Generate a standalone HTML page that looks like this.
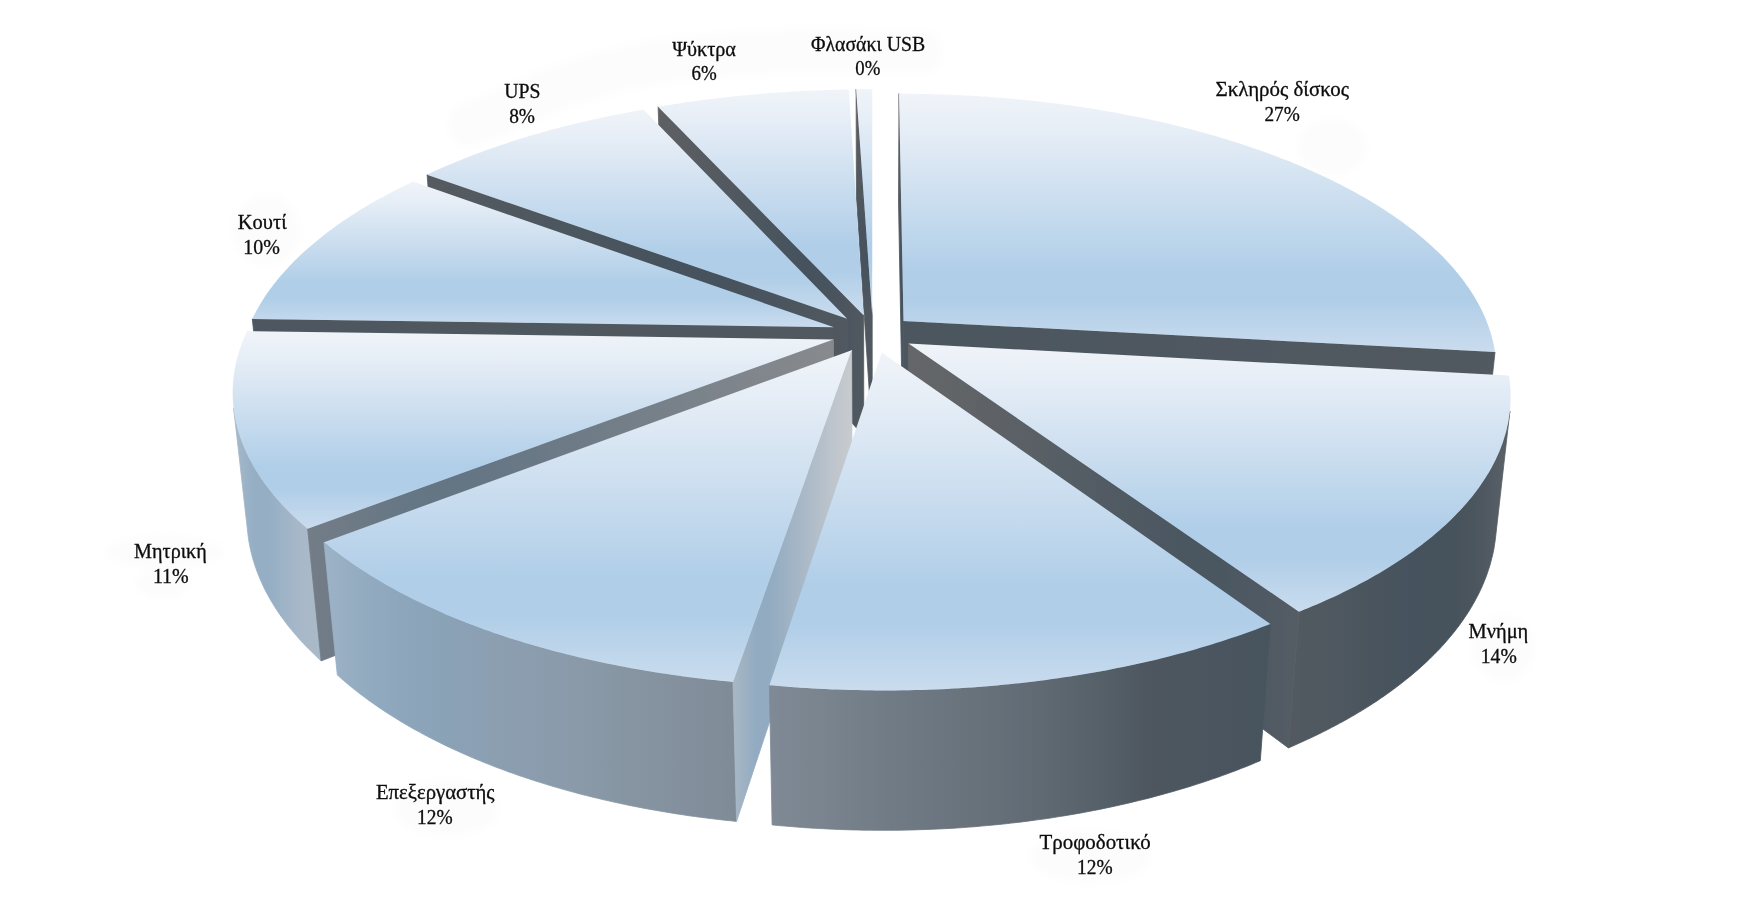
<!DOCTYPE html>
<html><head><meta charset="utf-8"><title>chart</title>
<style>
html,body{margin:0;padding:0;background:#fff;}
body{width:1746px;height:924px;overflow:hidden;}
svg{display:block;}
text{font-family:"Liberation Serif",serif;font-size:20px;fill:#0d0d0d;stroke:#0d0d0d;stroke-width:0.3px;text-anchor:start;}
</style></head><body>
<svg width="1746" height="924" viewBox="0 0 1746 924">
<defs>
<filter id="hb" x="-30%" y="-30%" width="160%" height="160%"><feGaussianBlur stdDeviation="5"/></filter>
<linearGradient id="g1" gradientUnits="userSpaceOnUse" x1="903.5" y1="320.9" x2="899.0" y2="93.7"><stop offset="0.000" stop-color="#4B555E"/><stop offset="0.050" stop-color="#48535D"/><stop offset="0.100" stop-color="#46525D"/><stop offset="0.150" stop-color="#46525D"/><stop offset="0.200" stop-color="#46525D"/><stop offset="0.250" stop-color="#48535D"/><stop offset="0.300" stop-color="#49545E"/><stop offset="0.350" stop-color="#4B555E"/><stop offset="0.400" stop-color="#4D565E"/><stop offset="0.450" stop-color="#4E575F"/><stop offset="0.500" stop-color="#50585F"/><stop offset="0.550" stop-color="#525960"/><stop offset="0.600" stop-color="#545A60"/><stop offset="0.650" stop-color="#555B61"/><stop offset="0.700" stop-color="#575C61"/><stop offset="0.750" stop-color="#595D62"/><stop offset="0.800" stop-color="#5B5E62"/><stop offset="0.850" stop-color="#5C5F63"/><stop offset="0.900" stop-color="#5D6063"/><stop offset="0.950" stop-color="#5F6163"/><stop offset="1.000" stop-color="#606264"/></linearGradient>
<linearGradient id="g2" gradientUnits="userSpaceOnUse" x1="903.5" y1="0.0" x2="1495.0" y2="0.0"><stop offset="0.000" stop-color="#4B565F"/><stop offset="0.050" stop-color="#4C565F"/><stop offset="0.100" stop-color="#4C565F"/><stop offset="0.150" stop-color="#4C565F"/><stop offset="0.200" stop-color="#4D565F"/><stop offset="0.250" stop-color="#4D575F"/><stop offset="0.300" stop-color="#4D575F"/><stop offset="0.350" stop-color="#4E575F"/><stop offset="0.400" stop-color="#4E5760"/><stop offset="0.450" stop-color="#4E5760"/><stop offset="0.500" stop-color="#4F5760"/><stop offset="0.550" stop-color="#4F5860"/><stop offset="0.600" stop-color="#4F5860"/><stop offset="0.650" stop-color="#505860"/><stop offset="0.700" stop-color="#505860"/><stop offset="0.750" stop-color="#505860"/><stop offset="0.800" stop-color="#515860"/><stop offset="0.850" stop-color="#515960"/><stop offset="0.900" stop-color="#515960"/><stop offset="0.950" stop-color="#515960"/><stop offset="1.000" stop-color="#525960"/></linearGradient>
<linearGradient id="g3" gradientUnits="userSpaceOnUse" x1="872.2" y1="314.7" x2="856.1" y2="89.3"><stop offset="0.000" stop-color="#51585F"/><stop offset="0.050" stop-color="#4E575F"/><stop offset="0.100" stop-color="#4C555E"/><stop offset="0.150" stop-color="#49545D"/><stop offset="0.200" stop-color="#46525D"/><stop offset="0.250" stop-color="#46525D"/><stop offset="0.300" stop-color="#46525D"/><stop offset="0.350" stop-color="#48535D"/><stop offset="0.400" stop-color="#4A545E"/><stop offset="0.450" stop-color="#4C565E"/><stop offset="0.500" stop-color="#4E575F"/><stop offset="0.550" stop-color="#50585F"/><stop offset="0.600" stop-color="#525960"/><stop offset="0.650" stop-color="#545A60"/><stop offset="0.700" stop-color="#565B61"/><stop offset="0.750" stop-color="#585C61"/><stop offset="0.800" stop-color="#5A5E62"/><stop offset="0.850" stop-color="#5C5F62"/><stop offset="0.900" stop-color="#5D6063"/><stop offset="0.950" stop-color="#5F6163"/><stop offset="1.000" stop-color="#606264"/></linearGradient>
<linearGradient id="g4" gradientUnits="userSpaceOnUse" x1="863.6" y1="0.0" x2="658.1" y2="0.0"><stop offset="0.000" stop-color="#51585F"/><stop offset="0.050" stop-color="#4E575F"/><stop offset="0.100" stop-color="#4C555E"/><stop offset="0.150" stop-color="#4A545E"/><stop offset="0.200" stop-color="#47535D"/><stop offset="0.250" stop-color="#46525D"/><stop offset="0.300" stop-color="#46525D"/><stop offset="0.350" stop-color="#47535D"/><stop offset="0.400" stop-color="#49545D"/><stop offset="0.450" stop-color="#4B555E"/><stop offset="0.500" stop-color="#4C565E"/><stop offset="0.550" stop-color="#4E575F"/><stop offset="0.600" stop-color="#50585F"/><stop offset="0.650" stop-color="#525960"/><stop offset="0.700" stop-color="#545A60"/><stop offset="0.750" stop-color="#555B61"/><stop offset="0.800" stop-color="#575C61"/><stop offset="0.850" stop-color="#595D62"/><stop offset="0.900" stop-color="#5B5E62"/><stop offset="0.950" stop-color="#5C5F63"/><stop offset="1.000" stop-color="#5E6063"/></linearGradient>
<linearGradient id="g5" gradientUnits="userSpaceOnUse" x1="847.2" y1="0.0" x2="427.1" y2="0.0"><stop offset="0.000" stop-color="#51585F"/><stop offset="0.050" stop-color="#4F575F"/><stop offset="0.100" stop-color="#4D565E"/><stop offset="0.150" stop-color="#4B555E"/><stop offset="0.200" stop-color="#4A545E"/><stop offset="0.250" stop-color="#48535D"/><stop offset="0.300" stop-color="#46525D"/><stop offset="0.350" stop-color="#46525D"/><stop offset="0.400" stop-color="#46525D"/><stop offset="0.450" stop-color="#46525D"/><stop offset="0.500" stop-color="#48535D"/><stop offset="0.550" stop-color="#49545E"/><stop offset="0.600" stop-color="#4A555E"/><stop offset="0.650" stop-color="#4C565E"/><stop offset="0.700" stop-color="#4D565F"/><stop offset="0.750" stop-color="#4F575F"/><stop offset="0.800" stop-color="#50585F"/><stop offset="0.850" stop-color="#515960"/><stop offset="0.900" stop-color="#535A60"/><stop offset="0.950" stop-color="#545A60"/><stop offset="1.000" stop-color="#555B61"/></linearGradient>
<linearGradient id="g6" gradientUnits="userSpaceOnUse" x1="834.0" y1="0.0" x2="252.3" y2="0.0"><stop offset="0.000" stop-color="#51585F"/><stop offset="0.050" stop-color="#51585F"/><stop offset="0.100" stop-color="#51585F"/><stop offset="0.150" stop-color="#50585F"/><stop offset="0.200" stop-color="#50585F"/><stop offset="0.250" stop-color="#50585F"/><stop offset="0.300" stop-color="#50585F"/><stop offset="0.350" stop-color="#50575F"/><stop offset="0.400" stop-color="#50575F"/><stop offset="0.450" stop-color="#4F575F"/><stop offset="0.500" stop-color="#4F575F"/><stop offset="0.550" stop-color="#4F575F"/><stop offset="0.600" stop-color="#4F575F"/><stop offset="0.650" stop-color="#4F575F"/><stop offset="0.700" stop-color="#4F575F"/><stop offset="0.750" stop-color="#4F575F"/><stop offset="0.800" stop-color="#4E575F"/><stop offset="0.850" stop-color="#4E575F"/><stop offset="0.900" stop-color="#4E575F"/><stop offset="0.950" stop-color="#4E565F"/><stop offset="1.000" stop-color="#4E565F"/></linearGradient>
<linearGradient id="g7" gradientUnits="userSpaceOnUse" x1="307.6" y1="0.0" x2="233.6" y2="0.0"><stop offset="-0.000" stop-color="#AAB9C8"/><stop offset="0.075" stop-color="#A8B8C8"/><stop offset="0.147" stop-color="#A5B7C8"/><stop offset="0.216" stop-color="#A3B6C7"/><stop offset="0.282" stop-color="#A0B4C7"/><stop offset="0.345" stop-color="#9DB3C6"/><stop offset="0.405" stop-color="#9AB1C5"/><stop offset="0.463" stop-color="#98B0C5"/><stop offset="0.517" stop-color="#95AEC4"/><stop offset="0.569" stop-color="#95AEC4"/><stop offset="0.618" stop-color="#95AEC4"/><stop offset="0.663" stop-color="#95AEC4"/><stop offset="0.706" stop-color="#95AEC4"/><stop offset="0.746" stop-color="#96AFC4"/><stop offset="0.783" stop-color="#98B0C5"/><stop offset="0.818" stop-color="#9AB1C6"/><stop offset="0.849" stop-color="#9DB3C6"/><stop offset="0.878" stop-color="#9FB4C7"/><stop offset="0.903" stop-color="#A1B5C7"/><stop offset="0.926" stop-color="#A3B6C8"/><stop offset="0.947" stop-color="#A5B8C8"/><stop offset="0.964" stop-color="#A7B9C9"/><stop offset="0.979" stop-color="#A9BACA"/><stop offset="0.991" stop-color="#ACBBCA"/><stop offset="1.000" stop-color="#AEBDCB"/><stop offset="1.000" stop-color="#AEBDCB"/></linearGradient>
<linearGradient id="g8" gradientUnits="userSpaceOnUse" x1="833.4" y1="0.0" x2="307.6" y2="0.0"><stop offset="0.000" stop-color="#878A8D"/><stop offset="0.050" stop-color="#85898D"/><stop offset="0.100" stop-color="#83878C"/><stop offset="0.150" stop-color="#80868C"/><stop offset="0.200" stop-color="#7E848B"/><stop offset="0.250" stop-color="#7B838A"/><stop offset="0.300" stop-color="#78818A"/><stop offset="0.350" stop-color="#768089"/><stop offset="0.400" stop-color="#737E88"/><stop offset="0.450" stop-color="#707D87"/><stop offset="0.500" stop-color="#6E7B87"/><stop offset="0.550" stop-color="#6B7986"/><stop offset="0.600" stop-color="#687885"/><stop offset="0.650" stop-color="#667685"/><stop offset="0.700" stop-color="#647584"/><stop offset="0.750" stop-color="#647584"/><stop offset="0.800" stop-color="#657684"/><stop offset="0.850" stop-color="#697885"/><stop offset="0.900" stop-color="#6C7A86"/><stop offset="0.950" stop-color="#707B87"/><stop offset="1.000" stop-color="#737D88"/></linearGradient>
<linearGradient id="g9" gradientUnits="userSpaceOnUse" x1="1509.9" y1="0.0" x2="1299.0" y2="0.0"><stop offset="-0.000" stop-color="#54595D"/><stop offset="0.005" stop-color="#555A60"/><stop offset="0.012" stop-color="#565C62"/><stop offset="0.021" stop-color="#575D64"/><stop offset="0.033" stop-color="#585F66"/><stop offset="0.046" stop-color="#575E65"/><stop offset="0.062" stop-color="#555D64"/><stop offset="0.080" stop-color="#535B63"/><stop offset="0.100" stop-color="#515A62"/><stop offset="0.123" stop-color="#4F5860"/><stop offset="0.147" stop-color="#4D575F"/><stop offset="0.174" stop-color="#4B555E"/><stop offset="0.204" stop-color="#49545D"/><stop offset="0.235" stop-color="#48535C"/><stop offset="0.269" stop-color="#47535C"/><stop offset="0.306" stop-color="#46525C"/><stop offset="0.344" stop-color="#46525C"/><stop offset="0.385" stop-color="#46525C"/><stop offset="0.428" stop-color="#46525D"/><stop offset="0.473" stop-color="#46525D"/><stop offset="0.521" stop-color="#47535D"/><stop offset="0.570" stop-color="#48535D"/><stop offset="0.622" stop-color="#4A545E"/><stop offset="0.676" stop-color="#4B555E"/><stop offset="0.733" stop-color="#4C565F"/><stop offset="0.791" stop-color="#4E575F"/><stop offset="0.851" stop-color="#4F575F"/><stop offset="0.914" stop-color="#505860"/><stop offset="0.978" stop-color="#515960"/><stop offset="1.000" stop-color="#525960"/></linearGradient>
<linearGradient id="g10" gradientUnits="userSpaceOnUse" x1="908.5" y1="0.0" x2="1299.0" y2="0.0"><stop offset="0.000" stop-color="#656669"/><stop offset="0.050" stop-color="#636568"/><stop offset="0.100" stop-color="#626568"/><stop offset="0.150" stop-color="#606467"/><stop offset="0.200" stop-color="#5E6267"/><stop offset="0.250" stop-color="#5C6166"/><stop offset="0.300" stop-color="#5A6066"/><stop offset="0.350" stop-color="#585F65"/><stop offset="0.400" stop-color="#565E65"/><stop offset="0.450" stop-color="#545C64"/><stop offset="0.500" stop-color="#525B64"/><stop offset="0.550" stop-color="#505A63"/><stop offset="0.600" stop-color="#4E5962"/><stop offset="0.650" stop-color="#4C5762"/><stop offset="0.700" stop-color="#4A5761"/><stop offset="0.750" stop-color="#4A5761"/><stop offset="0.800" stop-color="#4A5761"/><stop offset="0.850" stop-color="#4D5862"/><stop offset="0.900" stop-color="#4F5963"/><stop offset="0.950" stop-color="#525B63"/><stop offset="1.000" stop-color="#555C64"/></linearGradient>
<linearGradient id="g11" gradientUnits="userSpaceOnUse" x1="733.0" y1="0.0" x2="324.0" y2="0.0"><stop offset="-0.000" stop-color="#7F8B96"/><stop offset="0.045" stop-color="#818D98"/><stop offset="0.090" stop-color="#828E9B"/><stop offset="0.135" stop-color="#84909D"/><stop offset="0.179" stop-color="#85929F"/><stop offset="0.223" stop-color="#8694A1"/><stop offset="0.266" stop-color="#8795A3"/><stop offset="0.308" stop-color="#8897A5"/><stop offset="0.350" stop-color="#8999A7"/><stop offset="0.391" stop-color="#8A9AA9"/><stop offset="0.431" stop-color="#8A9BAB"/><stop offset="0.470" stop-color="#8A9CAD"/><stop offset="0.509" stop-color="#8B9DAE"/><stop offset="0.547" stop-color="#8B9EB0"/><stop offset="0.584" stop-color="#8B9FB1"/><stop offset="0.620" stop-color="#8BA0B3"/><stop offset="0.655" stop-color="#8BA1B5"/><stop offset="0.689" stop-color="#8AA2B6"/><stop offset="0.722" stop-color="#8BA3B7"/><stop offset="0.754" stop-color="#8CA4B9"/><stop offset="0.785" stop-color="#8DA5BA"/><stop offset="0.815" stop-color="#8EA6BB"/><stop offset="0.844" stop-color="#8FA8BD"/><stop offset="0.872" stop-color="#90A9BE"/><stop offset="0.898" stop-color="#93ABC0"/><stop offset="0.924" stop-color="#95ADC1"/><stop offset="0.948" stop-color="#98AEC2"/><stop offset="0.971" stop-color="#9AB0C4"/><stop offset="0.993" stop-color="#9CB2C5"/><stop offset="1.000" stop-color="#9DB2C5"/></linearGradient>
<linearGradient id="g12" gradientUnits="userSpaceOnUse" x1="851.6" y1="0.0" x2="733.0" y2="0.0"><stop offset="0.000" stop-color="#C7CBCF"/><stop offset="0.050" stop-color="#C4C9CE"/><stop offset="0.100" stop-color="#C1C7CD"/><stop offset="0.150" stop-color="#BEC5CC"/><stop offset="0.200" stop-color="#BAC2CB"/><stop offset="0.250" stop-color="#B6C0CA"/><stop offset="0.300" stop-color="#B2BEC9"/><stop offset="0.350" stop-color="#AEBBC8"/><stop offset="0.400" stop-color="#AAB9C7"/><stop offset="0.450" stop-color="#A6B6C6"/><stop offset="0.500" stop-color="#A2B4C5"/><stop offset="0.550" stop-color="#9DB2C4"/><stop offset="0.600" stop-color="#99AFC2"/><stop offset="0.650" stop-color="#95ADC1"/><stop offset="0.700" stop-color="#92ABC1"/><stop offset="0.750" stop-color="#92ABC1"/><stop offset="0.800" stop-color="#92ABC1"/><stop offset="0.850" stop-color="#97AEC2"/><stop offset="0.900" stop-color="#9DB1C3"/><stop offset="0.950" stop-color="#A2B4C4"/><stop offset="1.000" stop-color="#A8B7C6"/></linearGradient>
<linearGradient id="g13" gradientUnits="userSpaceOnUse" x1="1270.4" y1="0.0" x2="769.4" y2="0.0"><stop offset="-0.000" stop-color="#47545E"/><stop offset="0.029" stop-color="#48545E"/><stop offset="0.058" stop-color="#49545E"/><stop offset="0.088" stop-color="#4A555F"/><stop offset="0.119" stop-color="#4B555F"/><stop offset="0.150" stop-color="#4B565F"/><stop offset="0.182" stop-color="#4C565F"/><stop offset="0.215" stop-color="#4D565F"/><stop offset="0.249" stop-color="#4E5760"/><stop offset="0.283" stop-color="#515B63"/><stop offset="0.317" stop-color="#545E67"/><stop offset="0.352" stop-color="#57616A"/><stop offset="0.388" stop-color="#5A646D"/><stop offset="0.424" stop-color="#5D6770"/><stop offset="0.460" stop-color="#606A73"/><stop offset="0.497" stop-color="#636C76"/><stop offset="0.534" stop-color="#656F78"/><stop offset="0.571" stop-color="#67717A"/><stop offset="0.609" stop-color="#69737C"/><stop offset="0.647" stop-color="#6B757F"/><stop offset="0.684" stop-color="#6D7781"/><stop offset="0.722" stop-color="#6F7983"/><stop offset="0.761" stop-color="#717B86"/><stop offset="0.799" stop-color="#747E88"/><stop offset="0.837" stop-color="#76808B"/><stop offset="0.875" stop-color="#78838D"/><stop offset="0.912" stop-color="#7A8590"/><stop offset="0.950" stop-color="#7C8792"/><stop offset="0.988" stop-color="#7E8995"/><stop offset="1.000" stop-color="#7E8A96"/></linearGradient>
<linearGradient id="top" x1="0" y1="0" x2="0" y2="1"><stop offset="0.000" stop-color="#F0F4F9"/><stop offset="0.150" stop-color="#E5EDF6"/><stop offset="0.690" stop-color="#B0CEE8"/><stop offset="0.800" stop-color="#B0CEE8"/><stop offset="1.000" stop-color="#CADCEE"/></linearGradient>
</defs>
<rect width="1746" height="924" fill="#fff"/>
<g filter="url(#hb)" fill="#FCFCFC" stroke="none">
<path d="M470,125 L522,103 Q600,66 700,57 T870,52 L920,52" fill="none" stroke="#FCFCFC" stroke-width="44" stroke-linecap="round"/>
<ellipse cx="266" cy="230" rx="34" ry="35"/>
<ellipse cx="165" cy="552" rx="60" ry="16"/>
<ellipse cx="163" cy="584" rx="27" ry="14"/>
<ellipse cx="447" cy="808" rx="52" ry="28"/>
<ellipse cx="1090" cy="857" rx="60" ry="26"/>
<ellipse cx="1503" cy="648" rx="31" ry="33"/>
<ellipse cx="1332" cy="147" rx="34" ry="28"/>
</g>
<g shape-rendering="geometricPrecision">
<path d="M903.5,320.9 L899.0,93.7 L898.5,201.3 L902.9,442.1Z" fill="url(#g1)" stroke="url(#g1)" stroke-width="0.8" stroke-linejoin="round"/>
<path d="M903.5,320.9 L1495.0,352.0 L1481.6,474.9 L902.9,442.1Z" fill="url(#g2)" stroke="url(#g2)" stroke-width="0.8" stroke-linejoin="round"/>
<path d="M903.5,320.9 L899.0,93.7 L903.3,93.7 L907.7,93.7 L912.0,93.8 L916.3,93.8 L920.7,93.9 L925.0,94.0 L929.3,94.1 L933.7,94.2 L938.0,94.3 L942.3,94.4 L946.7,94.6 L951.0,94.8 L955.3,94.9 L959.6,95.1 L964.0,95.4 L968.3,95.6 L972.6,95.8 L976.9,96.1 L981.2,96.4 L985.5,96.6 L989.8,96.9 L994.1,97.3 L998.4,97.6 L1002.7,97.9 L1007.0,98.3 L1011.3,98.7 L1015.5,99.1 L1019.8,99.5 L1024.1,99.9 L1028.3,100.3 L1032.6,100.8 L1036.9,101.2 L1041.1,101.7 L1045.3,102.2 L1049.6,102.7 L1053.8,103.2 L1058.0,103.8 L1062.2,104.3 L1066.5,104.9 L1070.7,105.5 L1074.9,106.1 L1079.0,106.7 L1083.2,107.3 L1087.4,108.0 L1091.6,108.6 L1095.7,109.3 L1099.9,110.0 L1104.0,110.7 L1108.1,111.4 L1112.3,112.1 L1116.4,112.8 L1120.5,113.6 L1124.6,114.4 L1128.6,115.2 L1132.7,116.0 L1136.8,116.8 L1140.8,117.6 L1144.9,118.4 L1148.9,119.3 L1152.9,120.2 L1156.9,121.1 L1160.9,122.0 L1164.9,122.9 L1168.9,123.8 L1172.9,124.8 L1176.8,125.7 L1180.7,126.7 L1184.7,127.7 L1188.6,128.7 L1192.5,129.7 L1196.4,130.7 L1200.2,131.8 L1204.1,132.8 L1207.9,133.9 L1211.8,135.0 L1215.6,136.1 L1219.4,137.2 L1223.2,138.4 L1226.9,139.5 L1230.7,140.7 L1234.4,141.8 L1238.2,143.0 L1241.9,144.2 L1245.6,145.4 L1249.2,146.7 L1252.9,147.9 L1256.5,149.2 L1260.2,150.4 L1263.8,151.7 L1267.4,153.0 L1270.9,154.3 L1274.5,155.7 L1278.0,157.0 L1281.5,158.4 L1285.0,159.7 L1288.5,161.1 L1292.0,162.5 L1295.4,163.9 L1298.8,165.3 L1302.2,166.8 L1305.6,168.2 L1309.0,169.7 L1312.3,171.2 L1315.6,172.7 L1318.9,174.2 L1322.2,175.7 L1325.5,177.2 L1328.7,178.8 L1331.9,180.3 L1335.1,181.9 L1338.3,183.5 L1341.4,185.1 L1344.5,186.7 L1347.6,188.3 L1350.7,190.0 L1353.7,191.6 L1356.7,193.3 L1359.7,194.9 L1362.7,196.6 L1365.7,198.3 L1368.6,200.0 L1371.5,201.8 L1374.4,203.5 L1377.2,205.3 L1380.0,207.0 L1382.8,208.8 L1385.6,210.6 L1388.3,212.4 L1391.0,214.2 L1393.7,216.0 L1396.4,217.9 L1399.0,219.7 L1401.6,221.6 L1404.2,223.5 L1406.7,225.4 L1409.2,227.3 L1411.7,229.2 L1414.2,231.1 L1416.6,233.0 L1419.0,235.0 L1421.3,236.9 L1423.7,238.9 L1426.0,240.9 L1428.2,242.9 L1430.5,244.9 L1432.7,246.9 L1434.8,248.9 L1437.0,250.9 L1439.1,253.0 L1441.2,255.0 L1443.2,257.1 L1445.2,259.2 L1447.2,261.3 L1449.1,263.4 L1451.0,265.5 L1452.9,267.6 L1454.7,269.7 L1456.5,271.9 L1458.3,274.0 L1460.0,276.2 L1461.7,278.3 L1463.3,280.5 L1465.0,282.7 L1466.5,284.9 L1468.1,287.1 L1469.6,289.3 L1471.0,291.5 L1472.5,293.8 L1473.9,296.0 L1475.2,298.2 L1476.5,300.5 L1477.8,302.8 L1479.0,305.0 L1480.2,307.3 L1481.4,309.6 L1482.5,311.9 L1483.6,314.2 L1484.6,316.5 L1485.6,318.8 L1486.5,321.2 L1487.4,323.5 L1488.3,325.8 L1489.1,328.2 L1489.9,330.5 L1490.7,332.9 L1491.4,335.3 L1492.0,337.6 L1492.6,340.0 L1493.2,342.4 L1493.7,344.8 L1494.2,347.2 L1494.6,349.6 L1495.0,352.0Z" fill="url(#top)"/>
<path d="M872.2,314.7 L856.1,89.3 L856.4,196.6 L872.2,435.5Z" fill="url(#g3)" stroke="url(#g3)" stroke-width="0.8" stroke-linejoin="round"/>
<path d="M872.2,314.7 L856.1,89.3 L861.5,89.2 L866.9,89.2 L872.3,89.2Z" fill="url(#top)"/>
<path d="M863.6,315.2 L658.1,106.8 L662.0,215.3 L863.8,436.0Z" fill="url(#g4)" stroke="url(#g4)" stroke-width="0.8" stroke-linejoin="round"/>
<path d="M863.6,315.2 L658.1,106.8 L662.3,106.1 L666.5,105.4 L670.7,104.7 L674.9,104.1 L679.1,103.4 L683.4,102.8 L687.6,102.1 L691.9,101.5 L696.2,100.9 L700.4,100.3 L704.7,99.8 L709.0,99.2 L713.3,98.7 L717.6,98.2 L721.9,97.7 L726.2,97.2 L730.5,96.7 L734.9,96.2 L739.2,95.8 L743.5,95.4 L747.9,94.9 L752.2,94.5 L756.6,94.2 L760.9,93.8 L765.3,93.4 L769.6,93.1 L774.0,92.8 L778.4,92.5 L782.8,92.2 L787.2,91.9 L791.5,91.6 L795.9,91.4 L800.3,91.1 L804.7,90.9 L809.1,90.7 L813.5,90.5 L817.9,90.4 L822.3,90.2 L826.7,90.1 L831.1,90.0 L835.5,89.8 L839.9,89.7 L844.3,89.7 L848.8,89.6Z" fill="url(#top)"/>
<path d="M847.2,318.8 L427.1,174.7 L435.6,287.2 L847.7,439.8Z" fill="url(#g5)" stroke="url(#g5)" stroke-width="0.8" stroke-linejoin="round"/>
<path d="M847.2,318.8 L427.1,174.7 L430.4,173.1 L433.7,171.6 L437.0,170.1 L440.4,168.6 L443.8,167.1 L447.2,165.6 L450.6,164.2 L454.1,162.7 L457.5,161.3 L461.0,159.9 L464.5,158.5 L468.1,157.1 L471.6,155.7 L475.2,154.3 L478.8,153.0 L482.4,151.7 L486.0,150.3 L489.7,149.0 L493.3,147.7 L497.0,146.5 L500.7,145.2 L504.4,144.0 L508.1,142.7 L511.9,141.5 L515.7,140.3 L519.4,139.1 L523.2,137.9 L527.1,136.8 L530.9,135.6 L534.7,134.5 L538.6,133.4 L542.5,132.3 L546.3,131.2 L550.2,130.1 L554.2,129.1 L558.1,128.0 L562.0,127.0 L566.0,126.0 L570.0,125.0 L574.0,124.0 L578.0,123.0 L582.0,122.1 L586.0,121.2 L590.0,120.2 L594.1,119.3 L598.1,118.4 L602.2,117.5 L606.3,116.7 L610.4,115.8 L614.5,115.0 L618.6,114.2 L622.7,113.4 L626.8,112.6 L631.0,111.8 L635.1,111.0 L639.3,110.3 L643.5,109.6Z" fill="url(#top)"/>
<path d="M834.0,327.3 L252.3,318.9 L265.4,439.9 L834.8,448.8Z" fill="url(#g6)" stroke="url(#g6)" stroke-width="0.8" stroke-linejoin="round"/>
<path d="M834.0,327.3 L252.3,318.9 L253.4,316.6 L254.6,314.3 L255.8,311.9 L257.1,309.6 L258.4,307.3 L259.7,305.0 L261.1,302.7 L262.5,300.4 L264.0,298.1 L265.5,295.8 L267.0,293.6 L268.6,291.3 L270.2,289.1 L271.9,286.9 L273.6,284.6 L275.3,282.4 L277.0,280.2 L278.8,278.0 L280.7,275.8 L282.6,273.7 L284.5,271.5 L286.4,269.4 L288.4,267.2 L290.4,265.1 L292.5,263.0 L294.6,260.8 L296.7,258.8 L298.8,256.7 L301.0,254.6 L303.2,252.5 L305.5,250.5 L307.8,248.4 L310.1,246.4 L312.5,244.4 L314.8,242.4 L317.3,240.4 L319.7,238.4 L322.2,236.4 L324.7,234.5 L327.2,232.5 L329.8,230.6 L332.4,228.7 L335.0,226.7 L337.7,224.8 L340.4,223.0 L343.1,221.1 L345.9,219.2 L348.6,217.4 L351.4,215.5 L354.3,213.7 L357.1,211.9 L360.0,210.1 L362.9,208.3 L365.9,206.6 L368.8,204.8 L371.8,203.1 L374.8,201.3 L377.9,199.6 L381.0,197.9 L384.1,196.2 L387.2,194.5 L390.3,192.9 L393.5,191.2 L396.7,189.6 L399.9,188.0 L403.1,186.4 L406.4,184.8 L409.7,183.2 L413.0,181.6Z" fill="url(#top)"/>
<path d="M307.6,528.7 L304.8,526.3 L302.1,523.9 L299.4,521.5 L296.7,519.1 L294.1,516.7 L291.6,514.2 L289.1,511.8 L286.7,509.3 L284.4,506.9 L282.1,504.4 L279.8,501.9 L277.6,499.5 L275.4,497.0 L273.3,494.5 L271.3,492.0 L269.3,489.5 L267.4,487.0 L265.5,484.4 L263.7,481.9 L261.9,479.4 L260.2,476.9 L258.5,474.3 L256.9,471.8 L255.3,469.3 L253.8,466.7 L252.4,464.2 L251.0,461.6 L249.6,459.1 L248.3,456.5 L247.1,454.0 L245.9,451.4 L244.8,448.8 L243.7,446.3 L242.7,443.7 L241.7,441.2 L240.7,438.6 L239.9,436.0 L239.0,433.5 L238.3,430.9 L237.6,428.4 L236.9,425.8 L236.3,423.2 L235.7,420.7 L235.2,418.1 L234.7,415.6 L234.3,413.0 L233.9,410.5 L233.6,407.9 L247.9,533.8 L248.2,536.5 L248.6,539.2 L249.0,541.9 L249.5,544.6 L250.0,547.2 L250.6,549.9 L251.2,552.6 L251.9,555.3 L252.6,558.0 L253.4,560.7 L254.3,563.4 L255.1,566.1 L256.1,568.8 L257.0,571.5 L258.1,574.2 L259.2,576.9 L260.3,579.6 L261.5,582.3 L262.7,585.0 L264.0,587.7 L265.3,590.4 L266.7,593.0 L268.2,595.7 L269.6,598.4 L271.2,601.1 L272.8,603.7 L274.4,606.4 L276.1,609.1 L277.9,611.7 L279.7,614.4 L281.6,617.0 L283.5,619.6 L285.4,622.3 L287.4,624.9 L289.5,627.5 L291.6,630.1 L293.8,632.7 L296.0,635.3 L298.3,637.9 L300.6,640.5 L303.0,643.1 L305.4,645.7 L307.9,648.2 L310.5,650.8 L313.1,653.3 L315.7,655.8 L318.4,658.4 L321.1,660.9Z" fill="url(#g7)" stroke="url(#g7)" stroke-width="0.8" stroke-linejoin="round"/>
<path d="M833.4,339.5 L307.6,528.7 L321.1,660.9 L834.2,461.7Z" fill="url(#g8)" stroke="url(#g8)" stroke-width="0.8" stroke-linejoin="round"/>
<path d="M833.4,339.5 L307.6,528.7 L304.8,526.3 L302.1,523.9 L299.4,521.5 L296.7,519.1 L294.1,516.7 L291.6,514.2 L289.1,511.8 L286.7,509.3 L284.4,506.9 L282.1,504.4 L279.8,501.9 L277.6,499.5 L275.4,497.0 L273.3,494.5 L271.3,492.0 L269.3,489.5 L267.4,487.0 L265.5,484.4 L263.7,481.9 L261.9,479.4 L260.2,476.9 L258.5,474.3 L256.9,471.8 L255.3,469.3 L253.8,466.7 L252.4,464.2 L251.0,461.6 L249.6,459.1 L248.3,456.5 L247.1,454.0 L245.9,451.4 L244.8,448.8 L243.7,446.3 L242.7,443.7 L241.7,441.2 L240.7,438.6 L239.9,436.0 L239.0,433.5 L238.3,430.9 L237.6,428.4 L236.9,425.8 L236.3,423.2 L235.7,420.7 L235.2,418.1 L234.7,415.6 L234.3,413.0 L233.9,410.5 L233.6,407.9 L233.3,405.4 L233.1,402.8 L232.9,400.3 L232.8,397.7 L232.7,395.2 L232.7,392.7 L232.7,390.1 L232.8,387.6 L232.9,385.1 L233.1,382.6 L233.3,380.1 L233.6,377.6 L233.9,375.1 L234.2,372.6 L234.6,370.1 L235.1,367.6 L235.6,365.1 L236.1,362.6 L236.7,360.2 L237.3,357.7 L238.0,355.2 L238.7,352.8 L239.5,350.3 L240.3,347.9 L241.1,345.5 L242.0,343.1 L243.0,340.6 L243.9,338.2 L245.0,335.8 L246.0,333.4 L247.1,331.1Z" fill="url(#top)"/>
<path d="M1509.9,411.0 L1509.6,413.5 L1509.2,416.1 L1508.8,418.6 L1508.4,421.2 L1507.9,423.7 L1507.3,426.3 L1506.7,428.9 L1506.1,431.4 L1505.4,434.0 L1504.6,436.6 L1503.8,439.1 L1503.0,441.7 L1502.1,444.3 L1501.1,446.8 L1500.1,449.4 L1499.1,452.0 L1498.0,454.5 L1496.8,457.1 L1495.6,459.7 L1494.3,462.2 L1493.0,464.8 L1491.7,467.3 L1490.2,469.9 L1488.8,472.4 L1487.2,475.0 L1485.6,477.5 L1484.0,480.1 L1482.3,482.6 L1480.6,485.1 L1478.8,487.7 L1476.9,490.2 L1475.0,492.7 L1473.1,495.2 L1471.1,497.7 L1469.0,500.2 L1466.9,502.7 L1464.7,505.2 L1462.5,507.7 L1460.2,510.2 L1457.9,512.6 L1455.5,515.1 L1453.1,517.6 L1450.6,520.0 L1448.0,522.4 L1445.4,524.9 L1442.8,527.3 L1440.1,529.7 L1437.3,532.1 L1434.5,534.5 L1431.6,536.9 L1428.7,539.3 L1425.8,541.6 L1422.7,544.0 L1419.7,546.3 L1416.5,548.6 L1413.3,550.9 L1410.1,553.3 L1406.8,555.5 L1403.5,557.8 L1400.1,560.1 L1396.6,562.3 L1393.1,564.6 L1389.6,566.8 L1386.0,569.0 L1382.4,571.2 L1378.7,573.4 L1374.9,575.6 L1371.1,577.7 L1367.2,579.9 L1363.3,582.0 L1359.4,584.1 L1355.4,586.2 L1351.3,588.2 L1347.2,590.3 L1343.1,592.3 L1338.9,594.4 L1334.7,596.4 L1330.4,598.3 L1326.0,600.3 L1321.7,602.3 L1317.2,604.2 L1312.7,606.1 L1308.2,608.0 L1303.7,609.8 L1299.0,611.7 L1288.4,747.9 L1292.9,746.0 L1297.3,744.0 L1301.7,742.0 L1306.1,740.0 L1310.5,738.0 L1314.7,736.0 L1319.0,733.9 L1323.2,731.8 L1327.3,729.8 L1331.4,727.6 L1335.5,725.5 L1339.5,723.3 L1343.5,721.2 L1347.4,719.0 L1351.2,716.8 L1355.1,714.6 L1358.8,712.3 L1362.6,710.1 L1366.2,707.8 L1369.9,705.5 L1373.4,703.2 L1377.0,700.9 L1380.4,698.5 L1383.9,696.2 L1387.2,693.8 L1390.6,691.4 L1393.8,689.0 L1397.1,686.6 L1400.2,684.2 L1403.3,681.8 L1406.4,679.3 L1409.4,676.9 L1412.4,674.4 L1415.3,671.9 L1418.2,669.5 L1421.0,666.9 L1423.8,664.4 L1426.5,661.9 L1429.1,659.4 L1431.7,656.8 L1434.3,654.3 L1436.8,651.7 L1439.3,649.2 L1441.7,646.6 L1444.0,644.0 L1446.3,641.4 L1448.5,638.8 L1450.7,636.2 L1452.9,633.6 L1455.0,630.9 L1457.0,628.3 L1459.0,625.7 L1460.9,623.0 L1462.8,620.4 L1464.6,617.7 L1466.4,615.1 L1468.1,612.4 L1469.8,609.8 L1471.4,607.1 L1472.9,604.4 L1474.5,601.7 L1475.9,599.0 L1477.3,596.4 L1478.7,593.7 L1480.0,591.0 L1481.3,588.3 L1482.5,585.6 L1483.6,582.9 L1484.7,580.2 L1485.8,577.5 L1486.8,574.8 L1487.7,572.1 L1488.6,569.4 L1489.5,566.7 L1490.3,564.0 L1491.0,561.3 L1491.7,558.6 L1492.4,555.9 L1493.0,553.2 L1493.6,550.5 L1494.1,547.8 L1494.5,545.1 L1494.9,542.4 L1495.3,539.7 L1495.6,537.0Z" fill="url(#g9)" stroke="url(#g9)" stroke-width="0.8" stroke-linejoin="round"/>
<path d="M908.5,343.6 L1299.0,611.7 L1288.4,747.9 L907.7,466.0Z" fill="url(#g10)" stroke="url(#g10)" stroke-width="0.8" stroke-linejoin="round"/>
<path d="M908.5,343.6 L1508.9,375.6 L1509.3,378.1 L1509.6,380.6 L1509.9,383.1 L1510.1,385.6 L1510.3,388.1 L1510.5,390.7 L1510.6,393.2 L1510.6,395.7 L1510.6,398.2 L1510.5,400.8 L1510.4,403.3 L1510.3,405.9 L1510.1,408.4 L1509.9,411.0 L1509.6,413.5 L1509.2,416.1 L1508.8,418.6 L1508.4,421.2 L1507.9,423.7 L1507.3,426.3 L1506.7,428.9 L1506.1,431.4 L1505.4,434.0 L1504.6,436.6 L1503.8,439.1 L1503.0,441.7 L1502.1,444.3 L1501.1,446.8 L1500.1,449.4 L1499.1,452.0 L1498.0,454.5 L1496.8,457.1 L1495.6,459.7 L1494.3,462.2 L1493.0,464.8 L1491.7,467.3 L1490.2,469.9 L1488.8,472.4 L1487.2,475.0 L1485.6,477.5 L1484.0,480.1 L1482.3,482.6 L1480.6,485.1 L1478.8,487.7 L1476.9,490.2 L1475.0,492.7 L1473.1,495.2 L1471.1,497.7 L1469.0,500.2 L1466.9,502.7 L1464.7,505.2 L1462.5,507.7 L1460.2,510.2 L1457.9,512.6 L1455.5,515.1 L1453.1,517.6 L1450.6,520.0 L1448.0,522.4 L1445.4,524.9 L1442.8,527.3 L1440.1,529.7 L1437.3,532.1 L1434.5,534.5 L1431.6,536.9 L1428.7,539.3 L1425.8,541.6 L1422.7,544.0 L1419.7,546.3 L1416.5,548.6 L1413.3,550.9 L1410.1,553.3 L1406.8,555.5 L1403.5,557.8 L1400.1,560.1 L1396.6,562.3 L1393.1,564.6 L1389.6,566.8 L1386.0,569.0 L1382.4,571.2 L1378.7,573.4 L1374.9,575.6 L1371.1,577.7 L1367.2,579.9 L1363.3,582.0 L1359.4,584.1 L1355.4,586.2 L1351.3,588.2 L1347.2,590.3 L1343.1,592.3 L1338.9,594.4 L1334.7,596.4 L1330.4,598.3 L1326.0,600.3 L1321.7,602.3 L1317.2,604.2 L1312.7,606.1 L1308.2,608.0 L1303.7,609.8 L1299.0,611.7Z" fill="url(#top)"/>
<path d="M733.0,681.9 L726.8,681.3 L720.6,680.7 L714.4,680.1 L708.3,679.4 L702.2,678.7 L696.0,678.0 L690.0,677.2 L683.9,676.4 L677.8,675.6 L671.8,674.7 L665.8,673.8 L659.8,672.9 L653.8,672.0 L647.9,671.0 L642.0,670.0 L636.1,669.0 L630.2,667.9 L624.4,666.8 L618.6,665.7 L612.8,664.6 L607.1,663.4 L601.4,662.2 L595.7,661.0 L590.0,659.8 L584.4,658.5 L578.8,657.2 L573.2,655.8 L567.7,654.5 L562.2,653.1 L556.8,651.7 L551.4,650.3 L546.0,648.8 L540.6,647.3 L535.3,645.8 L530.0,644.3 L524.8,642.7 L519.6,641.1 L514.5,639.5 L509.3,637.9 L504.3,636.2 L499.2,634.6 L494.2,632.9 L489.3,631.1 L484.4,629.4 L479.5,627.6 L474.7,625.8 L469.9,624.0 L465.2,622.2 L460.5,620.3 L455.8,618.5 L451.2,616.6 L446.7,614.7 L442.2,612.7 L437.7,610.8 L433.3,608.8 L428.9,606.8 L424.6,604.8 L420.3,602.8 L416.1,600.7 L411.9,598.7 L407.8,596.6 L403.7,594.5 L399.7,592.4 L395.7,590.2 L391.8,588.1 L387.9,585.9 L384.1,583.7 L380.3,581.5 L376.6,579.3 L372.9,577.1 L369.3,574.9 L365.7,572.6 L362.2,570.3 L358.7,568.1 L355.3,565.8 L351.9,563.5 L348.6,561.1 L345.3,558.8 L342.1,556.5 L339.0,554.1 L335.9,551.7 L332.8,549.4 L329.8,547.0 L326.9,544.6 L324.0,542.2 L337.3,675.0 L340.1,677.5 L343.0,680.0 L345.9,682.5 L348.9,685.0 L352.0,687.5 L355.1,690.0 L358.2,692.5 L361.4,694.9 L364.6,697.3 L367.9,699.8 L371.3,702.2 L374.7,704.6 L378.1,706.9 L381.6,709.3 L385.2,711.7 L388.8,714.0 L392.4,716.3 L396.1,718.6 L399.9,720.9 L403.7,723.2 L407.5,725.4 L411.4,727.7 L415.4,729.9 L419.4,732.1 L423.4,734.3 L427.5,736.4 L431.6,738.6 L435.8,740.7 L440.0,742.8 L444.3,744.9 L448.6,747.0 L453.0,749.0 L457.4,751.0 L461.8,753.0 L466.3,755.0 L470.9,757.0 L475.4,758.9 L480.1,760.8 L484.7,762.7 L489.5,764.6 L494.2,766.5 L499.0,768.3 L503.8,770.1 L508.7,771.9 L513.6,773.6 L518.6,775.4 L523.6,777.1 L528.6,778.7 L533.7,780.4 L538.8,782.0 L543.9,783.6 L549.1,785.2 L554.3,786.8 L559.6,788.3 L564.9,789.8 L570.2,791.3 L575.5,792.7 L580.9,794.2 L586.4,795.5 L591.8,796.9 L597.3,798.2 L602.8,799.6 L608.4,800.8 L613.9,802.1 L619.5,803.3 L625.2,804.5 L630.8,805.7 L636.5,806.8 L642.2,807.9 L648.0,809.0 L653.7,810.0 L659.5,811.0 L665.3,812.0 L671.2,813.0 L677.0,813.9 L682.9,814.8 L688.8,815.7 L694.7,816.5 L700.6,817.3 L706.6,818.1 L712.6,818.8 L718.6,819.5 L724.6,820.2 L730.6,820.8 L736.6,821.4Z" fill="url(#g11)" stroke="url(#g11)" stroke-width="0.8" stroke-linejoin="round"/>
<path d="M851.6,350.2 L733.0,681.9 L736.6,821.4 L852.1,473.0Z" fill="url(#g12)" stroke="url(#g12)" stroke-width="0.8" stroke-linejoin="round"/>
<path d="M851.6,350.2 L733.0,681.9 L726.8,681.3 L720.6,680.7 L714.4,680.1 L708.3,679.4 L702.2,678.7 L696.0,678.0 L690.0,677.2 L683.9,676.4 L677.8,675.6 L671.8,674.7 L665.8,673.8 L659.8,672.9 L653.8,672.0 L647.9,671.0 L642.0,670.0 L636.1,669.0 L630.2,667.9 L624.4,666.8 L618.6,665.7 L612.8,664.6 L607.1,663.4 L601.4,662.2 L595.7,661.0 L590.0,659.8 L584.4,658.5 L578.8,657.2 L573.2,655.8 L567.7,654.5 L562.2,653.1 L556.8,651.7 L551.4,650.3 L546.0,648.8 L540.6,647.3 L535.3,645.8 L530.0,644.3 L524.8,642.7 L519.6,641.1 L514.5,639.5 L509.3,637.9 L504.3,636.2 L499.2,634.6 L494.2,632.9 L489.3,631.1 L484.4,629.4 L479.5,627.6 L474.7,625.8 L469.9,624.0 L465.2,622.2 L460.5,620.3 L455.8,618.5 L451.2,616.6 L446.7,614.7 L442.2,612.7 L437.7,610.8 L433.3,608.8 L428.9,606.8 L424.6,604.8 L420.3,602.8 L416.1,600.7 L411.9,598.7 L407.8,596.6 L403.7,594.5 L399.7,592.4 L395.7,590.2 L391.8,588.1 L387.9,585.9 L384.1,583.7 L380.3,581.5 L376.6,579.3 L372.9,577.1 L369.3,574.9 L365.7,572.6 L362.2,570.3 L358.7,568.1 L355.3,565.8 L351.9,563.5 L348.6,561.1 L345.3,558.8 L342.1,556.5 L339.0,554.1 L335.9,551.7 L332.8,549.4 L329.8,547.0 L326.9,544.6 L324.0,542.2Z" fill="url(#top)"/>
<path d="M1270.4,623.9 L1265.7,625.7 L1260.9,627.6 L1256.1,629.4 L1251.2,631.2 L1246.3,632.9 L1241.4,634.7 L1236.4,636.4 L1231.4,638.1 L1226.3,639.8 L1221.2,641.4 L1216.1,643.1 L1210.9,644.7 L1205.7,646.3 L1200.4,647.8 L1195.1,649.4 L1189.7,650.9 L1184.4,652.4 L1179.0,653.8 L1173.5,655.2 L1168.0,656.7 L1162.5,658.0 L1157.0,659.4 L1151.4,660.7 L1145.8,662.0 L1140.1,663.3 L1134.4,664.5 L1128.7,665.8 L1123.0,667.0 L1117.2,668.1 L1111.4,669.3 L1105.6,670.4 L1099.7,671.5 L1093.8,672.5 L1087.9,673.5 L1082.0,674.5 L1076.0,675.5 L1070.0,676.4 L1064.0,677.3 L1058.0,678.2 L1051.9,679.1 L1045.9,679.9 L1039.8,680.7 L1033.7,681.4 L1027.5,682.2 L1021.4,682.9 L1015.2,683.5 L1009.0,684.2 L1002.8,684.8 L996.6,685.4 L990.4,685.9 L984.1,686.4 L977.9,686.9 L971.6,687.4 L965.3,687.8 L959.0,688.2 L952.7,688.5 L946.4,688.9 L940.1,689.2 L933.8,689.4 L927.4,689.7 L921.1,689.9 L914.8,690.0 L908.4,690.2 L902.1,690.3 L895.7,690.4 L889.4,690.4 L883.0,690.4 L876.6,690.4 L870.3,690.3 L863.9,690.3 L857.6,690.1 L851.2,690.0 L844.9,689.8 L838.6,689.6 L832.2,689.4 L825.9,689.1 L819.6,688.8 L813.3,688.5 L807.0,688.1 L800.7,687.7 L794.4,687.3 L788.1,686.8 L781.9,686.3 L775.6,685.8 L769.4,685.2 L772.1,824.9 L778.1,825.5 L784.2,826.0 L790.3,826.5 L796.4,827.0 L802.6,827.5 L808.7,827.9 L814.8,828.3 L821.0,828.6 L827.1,828.9 L833.3,829.2 L839.5,829.5 L845.6,829.7 L851.8,829.9 L858.0,830.0 L864.2,830.2 L870.4,830.2 L876.5,830.3 L882.7,830.3 L888.9,830.3 L895.1,830.3 L901.3,830.2 L907.5,830.1 L913.7,829.9 L919.8,829.7 L926.0,829.5 L932.2,829.3 L938.3,829.0 L944.5,828.7 L950.6,828.4 L956.8,828.0 L962.9,827.6 L969.0,827.1 L975.1,826.7 L981.2,826.1 L987.3,825.6 L993.4,825.0 L999.4,824.4 L1005.5,823.8 L1011.5,823.1 L1017.5,822.4 L1023.5,821.7 L1029.5,820.9 L1035.4,820.1 L1041.4,819.3 L1047.3,818.5 L1053.2,817.6 L1059.1,816.6 L1064.9,815.7 L1070.8,814.7 L1076.6,813.7 L1082.3,812.7 L1088.1,811.6 L1093.8,810.5 L1099.6,809.4 L1105.2,808.2 L1110.9,807.0 L1116.5,805.8 L1122.1,804.5 L1127.7,803.3 L1133.2,801.9 L1138.7,800.6 L1144.2,799.3 L1149.7,797.9 L1155.1,796.4 L1160.4,795.0 L1165.8,793.5 L1171.1,792.0 L1176.4,790.5 L1181.6,788.9 L1186.8,787.4 L1192.0,785.8 L1197.2,784.1 L1202.2,782.5 L1207.3,780.8 L1212.3,779.1 L1217.3,777.4 L1222.3,775.6 L1227.2,773.8 L1232.0,772.0 L1236.9,770.2 L1241.6,768.3 L1246.4,766.5 L1251.1,764.6 L1255.7,762.6 L1260.3,760.7Z" fill="url(#g13)" stroke="url(#g13)" stroke-width="0.8" stroke-linejoin="round"/>
<path d="M881.8,352.5 L1270.4,623.9 L1265.7,625.7 L1260.9,627.6 L1256.1,629.4 L1251.2,631.2 L1246.3,632.9 L1241.4,634.7 L1236.4,636.4 L1231.4,638.1 L1226.3,639.8 L1221.2,641.4 L1216.1,643.1 L1210.9,644.7 L1205.7,646.3 L1200.4,647.8 L1195.1,649.4 L1189.7,650.9 L1184.4,652.4 L1179.0,653.8 L1173.5,655.2 L1168.0,656.7 L1162.5,658.0 L1157.0,659.4 L1151.4,660.7 L1145.8,662.0 L1140.1,663.3 L1134.4,664.5 L1128.7,665.8 L1123.0,667.0 L1117.2,668.1 L1111.4,669.3 L1105.6,670.4 L1099.7,671.5 L1093.8,672.5 L1087.9,673.5 L1082.0,674.5 L1076.0,675.5 L1070.0,676.4 L1064.0,677.3 L1058.0,678.2 L1051.9,679.1 L1045.9,679.9 L1039.8,680.7 L1033.7,681.4 L1027.5,682.2 L1021.4,682.9 L1015.2,683.5 L1009.0,684.2 L1002.8,684.8 L996.6,685.4 L990.4,685.9 L984.1,686.4 L977.9,686.9 L971.6,687.4 L965.3,687.8 L959.0,688.2 L952.7,688.5 L946.4,688.9 L940.1,689.2 L933.8,689.4 L927.4,689.7 L921.1,689.9 L914.8,690.0 L908.4,690.2 L902.1,690.3 L895.7,690.4 L889.4,690.4 L883.0,690.4 L876.6,690.4 L870.3,690.3 L863.9,690.3 L857.6,690.1 L851.2,690.0 L844.9,689.8 L838.6,689.6 L832.2,689.4 L825.9,689.1 L819.6,688.8 L813.3,688.5 L807.0,688.1 L800.7,687.7 L794.4,687.3 L788.1,686.8 L781.9,686.3 L775.6,685.8 L769.4,685.2Z" fill="url(#top)"/>
</g>
<g style="filter:grayscale(1)">
<text x="811.0" y="50.7" font-size="20" textLength="114.1" lengthAdjust="spacingAndGlyphs">Φλασάκι USB</text>
<text x="855.3" y="75.4" font-size="19" textLength="25.0" lengthAdjust="spacingAndGlyphs">0%</text>
<text x="672.2" y="55.8" font-size="20" textLength="63.7" lengthAdjust="spacingAndGlyphs">Ψύκτρα</text>
<text x="691.5" y="80.0" font-size="19" textLength="25.2" lengthAdjust="spacingAndGlyphs">6%</text>
<text x="504.3" y="97.7" font-size="20" textLength="36.2" lengthAdjust="spacingAndGlyphs">UPS</text>
<text x="509.2" y="122.7" font-size="19" textLength="25.8" lengthAdjust="spacingAndGlyphs">8%</text>
<text x="237.8" y="228.8" font-size="20" textLength="48.9" lengthAdjust="spacingAndGlyphs">Κουτί</text>
<text x="243.2" y="253.8" font-size="19" textLength="36.6" lengthAdjust="spacingAndGlyphs">10%</text>
<text x="134.1" y="557.8" font-size="20" textLength="72.7" lengthAdjust="spacingAndGlyphs">Μητρική</text>
<text x="152.9" y="583.0" font-size="19" textLength="35.8" lengthAdjust="spacingAndGlyphs">11%</text>
<text x="375.9" y="798.9" font-size="20" textLength="118.7" lengthAdjust="spacingAndGlyphs">Επεξεργαστής</text>
<text x="417.1" y="824.1" font-size="19" textLength="35.6" lengthAdjust="spacingAndGlyphs">12%</text>
<text x="1039.6" y="848.9" font-size="20" textLength="111.1" lengthAdjust="spacingAndGlyphs">Τροφοδοτικό</text>
<text x="1077.1" y="874.1" font-size="19" textLength="35.6" lengthAdjust="spacingAndGlyphs">12%</text>
<text x="1468.5" y="637.5" font-size="20" textLength="59.8" lengthAdjust="spacingAndGlyphs">Μνήμη</text>
<text x="1480.8" y="663.0" font-size="19" textLength="36.0" lengthAdjust="spacingAndGlyphs">14%</text>
<text x="1215.5" y="96.1" font-size="20" textLength="133.6" lengthAdjust="spacingAndGlyphs">Σκληρός δίσκος</text>
<text x="1264.4" y="120.8" font-size="19" textLength="35.4" lengthAdjust="spacingAndGlyphs">27%</text>
</g>
</svg>
</body></html>
